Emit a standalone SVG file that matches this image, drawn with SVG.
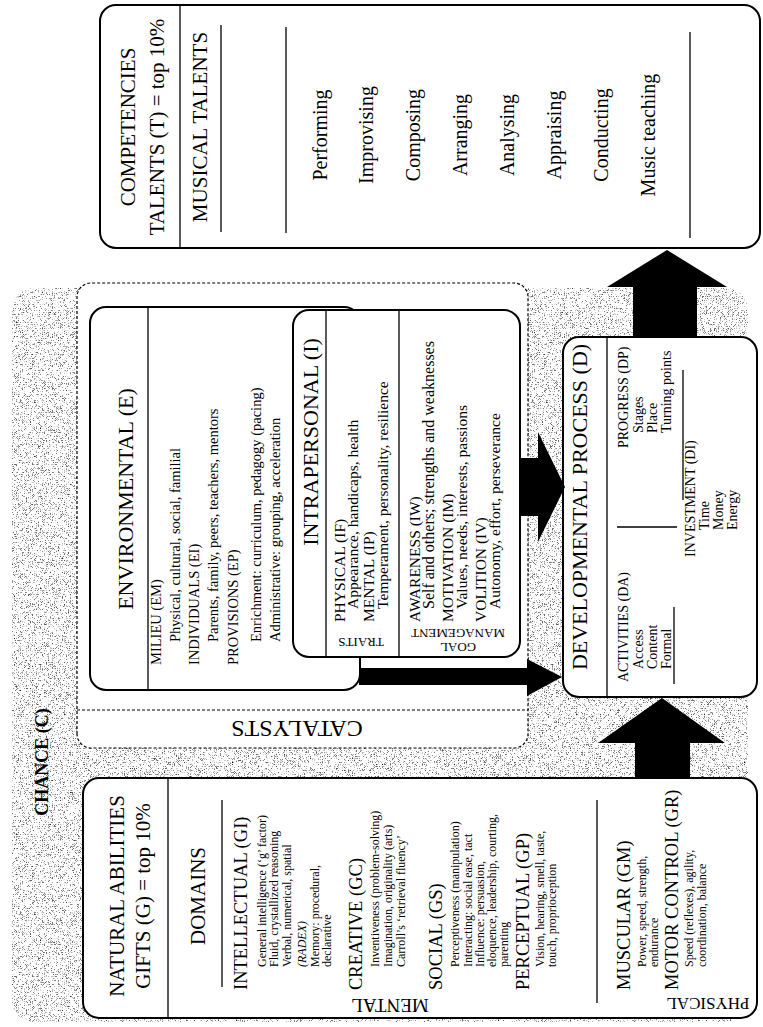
<svg xmlns="http://www.w3.org/2000/svg" width="763" height="1027" viewBox="0 0 763 1027">
  <defs>
    <!-- speckled grey ground for the CHANCE field -->
    <filter id="stipple" x="0" y="0" width="1" height="1" color-interpolation-filters="sRGB">
      <feTurbulence type="fractalNoise" baseFrequency="1.5" numOctaves="1" seed="5" result="noise"/>
      <feColorMatrix in="noise" type="matrix" values="0 0 0 0 0  0 0 0 0 0  0 0 0 0 0  3 0 0 0 -1.6" result="dots"/>
      <feComposite in="dots" in2="SourceAlpha" operator="in"/>
    </filter>
  </defs>
  <style>
    text { font-family: "Liberation Serif", "Times New Roman", serif; fill: #000; }
    .box { fill: #fff; stroke: #000; stroke-width: 2; }
    .rule { stroke: #000; stroke-width: 1.3; }
    .dash { fill: #fff; stroke: #000; stroke-width: 1.2; stroke-dasharray: 3 2; }
    .dashline { stroke: #000; stroke-width: 1.2; stroke-dasharray: 3 2; }
    .arrow { fill: #000; }
    .title { font-size: 22px; }
    .head21 { font-size: 21px; }
    .item { font-size: 20px; }
    .dom { font-size: 18.5px; }
    .sub { font-size: 12px; }
    .env { font-size: 14.5px; }
    .intra { font-size: 15.5px; }
    .dev { font-size: 14px; }
    .side { font-size: 13px; }
    .chance { font-size: 18px; font-weight: bold; }
    .mid { text-anchor: middle; }
  </style>

  <!-- CHANCE field -->
  <rect x="12" y="288" width="736" height="734" rx="22" fill="#fff"/>
  <rect x="12" y="288" width="736" height="734" rx="22" fill="#000" filter="url(#stipple)"/>

  <!-- whole model is laid out landscape and turned a quarter turn -->
  <g transform="translate(0,1027) rotate(-90)">
    <text class="chance mid" x="265" y="48">CHANCE (C)</text>

    <g id="catalysts">
      <rect class="dash" x="279" y="77" width="465" height="451" rx="14"/>
      <line class="dashline" x1="317" y1="77" x2="317" y2="528"/>
      <text class="title mid" transform="translate(306,297) rotate(-90)" style="font-size:24px">CATALYSTS</text>
    </g>

    <g id="environmental">
      <rect class="box" x="337" y="90" width="383" height="270" rx="16"/>
      <line class="rule" x1="337" y1="148" x2="720" y2="148"/>
      <text class="title mid" x="528" y="133">ENVIRONMENTAL (E)</text>
      <text class="env" x="362" y="161">MILIEU (EM)</text>
      <text class="env" x="385" y="180">Physical, cultural, social, familial</text>
      <text class="env" x="362" y="199">INDIVIDUALS (EI)</text>
      <text class="env" x="385" y="218">Parents, family, peers, teachers, mentors</text>
      <text class="env" x="362" y="238">PROVISIONS (EP)</text>
      <text class="env" x="385" y="261">Enrichment: curriculum, pedagogy (pacing)</text>
      <text class="env" x="385" y="280">Administrative: grouping, acceleration</text>
    </g>

    <g id="intrapersonal">
      <rect class="box" x="370" y="293" width="347" height="227" rx="16"/>
      <line class="rule" x1="370" y1="326" x2="717" y2="326"/>
      <line class="rule" x1="370" y1="399" x2="717" y2="399"/>
      <text class="title mid" x="585" y="318">INTRAPERSONAL (I)</text>
      <text class="side mid" transform="translate(389,361) rotate(-90)">TRAITS</text>
      <text class="side mid" transform="translate(384,458) rotate(-90)">GOAL</text>
      <text class="side mid" transform="translate(398,458) rotate(-90)">MANAGEMENT</text>
      <text class="intra" x="405" y="345">PHYSICAL (IF)</text>
      <text class="intra" x="418" y="358">Appearance, handicaps, health</text>
      <text class="intra" x="405" y="374">MENTAL (IP)</text>
      <text class="intra" x="418" y="388">Temperament, personality, resilience</text>
      <text class="intra" x="405" y="420">AWARENESS (IW)</text>
      <text class="intra" x="418" y="434" style="font-size:16px">Self and others; strengths and weaknesses</text>
      <text class="intra" x="405" y="453">MOTIVATION (IM)</text>
      <text class="intra" x="418" y="467">Values, needs, interests, passions</text>
      <text class="intra" x="405" y="486">VOLITION (IV)</text>
      <text class="intra" x="418" y="500">Autonomy, effort, perseverance</text>
    </g>

    <g id="developmental">
      <rect class="box" x="330" y="563" width="360" height="194" rx="16"/>
      <line class="rule" x1="330" y1="607" x2="690" y2="607"/>
      <text class="title mid" x="520" y="587">DEVELOPMENTAL PROCESS (D)</text>
      <text class="dev" x="345" y="628">ACTIVITIES (DA)</text>
      <text class="dev" x="358" y="643">Access</text>
      <text class="dev" x="358" y="657">Content</text>
      <text class="dev" x="358" y="671">Formal</text>
      <line class="rule" x1="343" y1="674" x2="420" y2="674"/>
      <line class="rule" x1="500" y1="617" x2="500" y2="677"/>
      <text class="dev" x="579" y="628">PROGRESS (DP)</text>
      <text class="dev" x="594" y="643">Stages</text>
      <text class="dev" x="594" y="657">Place</text>
      <text class="dev" x="594" y="671">Turning points</text>
      <line class="rule" x1="527" y1="683" x2="657" y2="683"/>
      <text class="dev" x="470" y="695">INVESTMENT (DI)</text>
      <text class="dev" x="497" y="709">Time</text>
      <text class="dev" x="497" y="723">Money</text>
      <text class="dev" x="497" y="737">Energy</text>
    </g>

    <g id="talents">
      <rect class="box" x="779" y="100" width="243" height="660" rx="16"/>
      <line class="rule" x1="779" y1="180" x2="1022" y2="180"/>
      <text class="head21 mid" x="900" y="135">COMPETENCIES</text>
      <text class="head21 mid" x="900" y="164">TALENTS (T) = top 10%</text>
      <text class="head21 mid" x="900" y="207">MUSICAL TALENTS</text>
      <line class="rule" x1="795" y1="221" x2="1002" y2="221"/>
      <line class="rule" x1="794" y1="286" x2="1000" y2="286"/>
      <text class="item mid" x="892" y="327">Performing</text>
      <text class="item mid" x="892" y="373">Improvising</text>
      <text class="item mid" x="892" y="420">Composing</text>
      <text class="item mid" x="892" y="467">Arranging</text>
      <text class="item mid" x="892" y="514">Analysing</text>
      <text class="item mid" x="892" y="561">Appraising</text>
      <text class="item mid" x="892" y="608">Conducting</text>
      <text class="item mid" x="892" y="655">Music teaching</text>
      <line class="rule" x1="789" y1="690" x2="995" y2="690"/>
    </g>

    <g id="gifts">
      <rect class="box" x="9" y="83" width="240" height="674" rx="16"/>
      <line class="rule" x1="9" y1="168" x2="249" y2="168"/>
      <text class="head21 mid" x="131" y="124">NATURAL ABILITIES</text>
      <text class="head21 mid" x="131" y="150">GIFTS (G) = top 10%</text>
      <text class="head21 mid" x="131" y="205">DOMAINS</text>
      <line class="rule" x1="40" y1="222" x2="227" y2="222"/>
      <text class="dom mid" transform="translate(28,390) rotate(-90)" style="font-size:19px">MENTAL</text>
      <text class="dom" x="37" y="247">INTELLECTUAL (GI)</text>
      <text class="sub" x="60" y="266">General intelligence (‘g’ factor)</text>
      <text class="sub" x="60" y="278">Fluid, crystallized reasoning</text>
      <text class="sub" x="60" y="291">Verbal, numerical, spatial</text>
      <text class="sub" x="60" y="306" font-style="italic">(RADEX)</text>
      <text class="sub" x="60" y="319">Memory: procedural,</text>
      <text class="sub" x="60" y="331">declarative</text>
      <text class="dom" x="37" y="362">CREATIVE (GC)</text>
      <text class="sub" x="60" y="379">Inventiveness (problem-solving)</text>
      <text class="sub" x="60" y="392">Imagination, originality (arts)</text>
      <text class="sub" x="60" y="405">Carroll’s ‘retrieval fluency’</text>
      <text class="dom" x="37" y="442">SOCIAL (GS)</text>
      <text class="sub" x="60" y="459">Perceptiveness (manipulation)</text>
      <text class="sub" x="60" y="472">Interacting: social ease, tact</text>
      <text class="sub" x="60" y="484">Influence: persuasion,</text>
      <text class="sub" x="60" y="496">eloquence, leadership, courting,</text>
      <text class="sub" x="60" y="508">parenting</text>
      <text class="dom" x="37" y="529">PERCEPTUAL (GP)</text>
      <text class="sub" x="60" y="544">Vision, hearing, smell, taste,</text>
      <text class="sub" x="60" y="556">touch, proprioception</text>
      <line class="rule" x1="24" y1="597" x2="227" y2="597"/>
      <text class="dom mid" transform="translate(29,708) rotate(-90)" style="font-size:17px">PHYSICAL</text>
      <text class="dom" x="37" y="630">MUSCULAR (GM)</text>
      <text class="sub" x="60" y="646">Power, speed, strength,</text>
      <text class="sub" x="60" y="658">endurance</text>
      <text class="dom" x="37" y="678">MOTOR CONTROL (GR)</text>
      <text class="sub" x="60" y="693">Speed (reflexes), agility,</text>
      <text class="sub" x="60" y="706">coordination, balance</text>
    </g>
  </g>

  <!-- block arrows -->
  <g id="connectors">
    <polygon class="arrow" points="633,337 633,287 607,287 667,250 727,287 697,287 697,337"/>
    <polygon class="arrow" points="635,779 635,743 598,743 662,698 725,743 690,743 690,779"/>
    <polygon class="arrow" points="359,668 527,668 527,659 562,677 527,696 527,685 359,685"/>
    <polygon class="arrow" points="520,458 538,458 538,432 565,487 538,542 538,516 520,516"/>
  </g>
</svg>
